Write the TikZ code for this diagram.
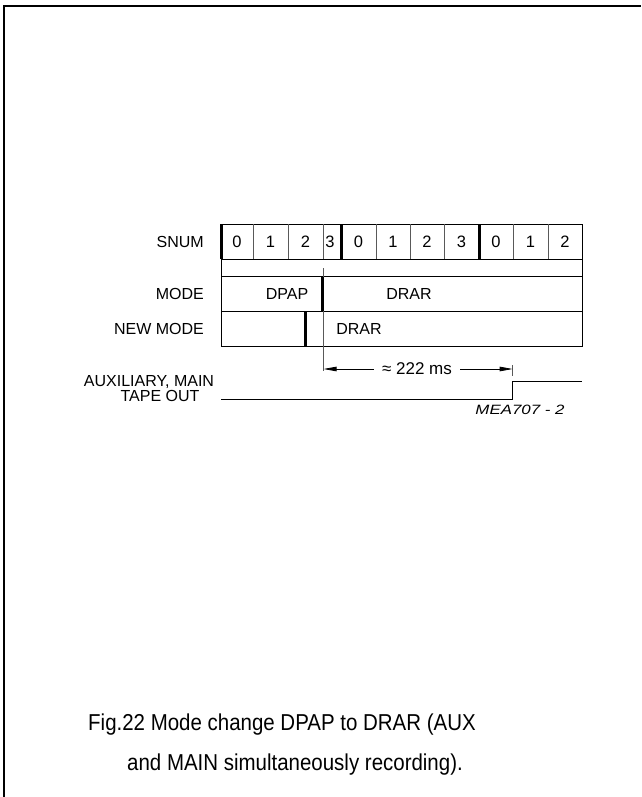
\documentclass[tikz,border=0pt]{standalone}
\usepackage{fontspec}
\setmainfont{Liberation Sans}
\newfontfamily\capfont[FakeStretch=0.89]{Liberation Sans}
\newfontfamily\widefont[FakeStretch=1.25]{Liberation Sans}
\usetikzlibrary{arrows.meta}
\begin{document}
\begin{tikzpicture}[x=1pt,y=-1pt,
  lbl/.style={inner sep=0pt,font=\fontsize{16}{18}\selectfont},
  digit/.style={inner sep=0pt,font=\fontsize{16.5}{18}\selectfont},
  capt/.style={inner sep=0pt,anchor=base west,font=\capfont\fontsize{23}{28}\selectfont},
  outline/.style={line width=1pt,black},
  thin/.style={line width=0.7pt,black!65},
  bar/.style={line width=3pt,black},
  sig/.style={line width=1.3pt,black},
  dim/.style={line width=0.8pt,black,-{Triangle[length=13pt,width=4.5pt]}}]
\useasboundingbox (0,0) rectangle (641,797);
% frame
\draw[line width=1.6pt] (4,797) -- (4,6) -- (641,6);
% table outline and rows
\draw[outline] (221,224) rectangle (582,346);
\draw[outline] (221,259) -- (582,259);
\draw[outline] (221,276.7) -- (582,276.7);
\draw[outline] (221,311) -- (582,311);
% cell separators
\foreach \x in {253,288,323,376,410,444,513,548}
  \draw[thin] (\x,224) -- (\x,259);
\foreach \x in {221.5,341,479}
  \draw[bar] (\x,224) -- (\x,259);
% change markers
\draw[thin] (323.5,268) -- (323.5,276.7);
\draw[bar] (322.7,276.7) -- (322.7,311);
\draw[bar] (305.7,311) -- (305.7,346);
\draw[thin] (323.5,311) -- (323.5,371);
\coordinate (start) at (323.5,369);
\coordinate (stop) at (512.7,369);
\draw[thin] (512.7,365) -- (512.7,376);
% labels
\node[lbl,anchor=east] (snum) at (204,241.5) {SNUM};
\node[lbl,anchor=east] (mode) at (204,294) {MODE};
\node[lbl,anchor=east] (newmode) at (204,328.5) {NEW MODE};
\node[lbl,align=center] (aux) at (149,389) {AUXILIARY, MAIN\\[-3pt]\hspace*{22pt}TAPE OUT};
% digits
\foreach \x/\d/\n in {237/0/a,270.5/1/b,305.5/2/c,330/3/d,358.5/0/e,393/1/f,427/2/g,461.5/3/h,496/0/i,530.5/1/j,565/2/k}
  \node[digit] (n\n) at (\x,241.5) {\d};
% mode texts
\node[lbl] (dpap) at (287,294) {DPAP};
\node[lbl] (drar1) at (409,294) {DRAR};
\node[lbl] (drar2) at (359,328.5) {DRAR};
% duration
\node[lbl,font=\fontsize{17}{18}\selectfont] (dur) at (417,369) {≈ 222 ms};
\draw[dim] ([xshift=-8pt]dur.west) -- (start);
\draw[dim] ([xshift=8pt]dur.east) -- (stop);
% signal
\coordinate (s0) at (221,399.3);
\coordinate (s1) at (512.7,399.3);
\coordinate (s2) at (512.7,381.7);
\coordinate (s3) at (582,381.7);
\draw[sig] (s0) -- (s1) -- (s2) -- (s3);
\node[inner sep=0pt,font=\widefont\fontsize{13.5}{15}\selectfont\itshape] (ref) at (520,410) {MEA707 - 2};
% caption
\node[capt] (cap1) at (88,730) {Fig.22 Mode change DPAP to DRAR (AUX};
\node[capt] (cap2) at (127,770.5) {and MAIN simultaneously recording).};
\end{tikzpicture}
\end{document}
